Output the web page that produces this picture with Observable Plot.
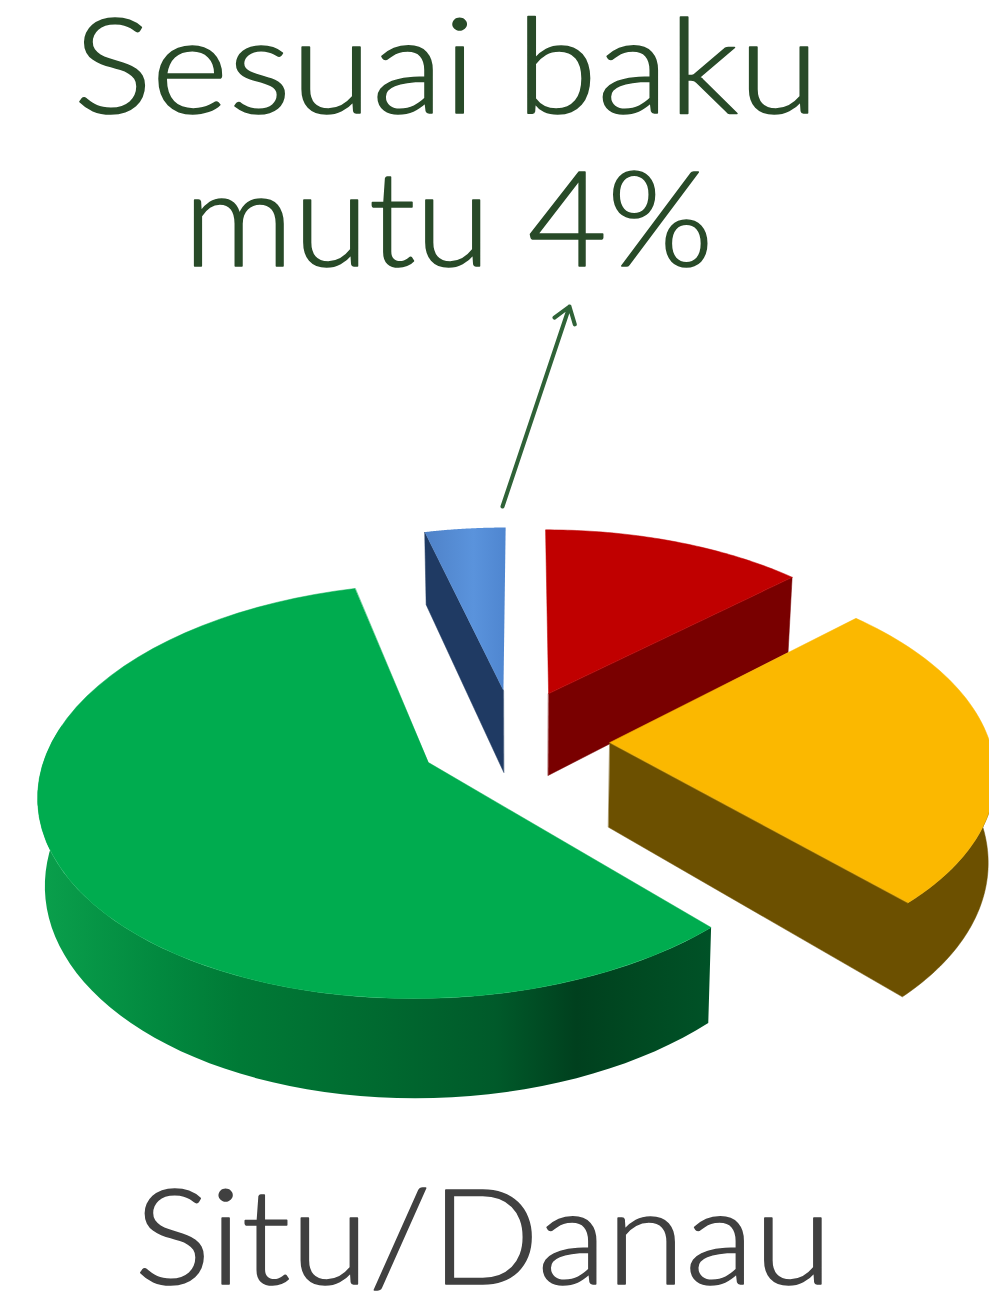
<!DOCTYPE html>
<html>
<head>
<meta charset="utf-8">
<script src="https://cdn.jsdelivr.net/npm/d3@7"></script>
<script src="https://cdn.jsdelivr.net/npm/@observablehq/plot@0.6"></script>
<style>
html,body{margin:0;padding:0;background:#fff;overflow:hidden}
svg{display:block}
</style>
</head>
<body>
<div id="chart"></div>
<script>
// ---- data (percent of sites) ----
const sliceKeys   = ["merah", "kuning", "hijau", "biru"];
const sliceValues = [13, 25, 58, 4];
const calloutLines = ["Sesuai baku", "mutu 4%"];
const chartLabel   = ["Situ/Danau"];

// ---- styles ----
const topColors  = {merah: "#c00000", kuning: "#fbb800", hijau: "#00ac4f", biru: "url(#blueTop)"};
const sideColors = {merah: "#790000", kuning: "#6c5000", hijau: "url(#greenSide)", biru: "#1f3a63"};

// ---- perspective of the tilted disc ----
// the disc lies in a ground plane (u across, w in depth); the scales map u/w and 1/w to the page
const W = 989, H = 1297;
const focalX = 2804, focalY = 10788, vanishX = 522, horizon = -720;
const shrinkX = 0.985, growY = 1.058; // lower face of the disc
const explode = {
  merah:  {u:  0.071, w: 7.635},
  kuning: {u:  0.230, w: 7.379},
  hijau:  {u: -0.244, w: 7.279},
  biru:   {u: -0.052, w: 7.651}
};
const project = (u, w, lower) => ({
  px: (u / w) * (lower ? shrinkX : 1),
  py: (1 / w) * (lower ? growY : 1)
});
// page position helpers for annotations
const pageX = x => (x - vanishX) / focalX;
const pageY = y => (y - horizon) / focalY;

// ---- angles from the values ----
const arcs = d3.pie().sort(null).value(d => d.value)
  (sliceKeys.map((key, i) => ({key, value: sliceValues[i]})));

const rimPoint = (key, a, lower) => {
  const o = explode[key];
  return project(o.u + Math.sin(a), o.w + Math.cos(a), lower);
};
const apex = (key, lower) => project(explode[key].u, explode[key].w, lower);
const arcAngles = (a0, a1) => d3.range(0, 61).map(i => a0 + (a1 - a0) * i / 60);

const topFace = arc => [
  apex(arc.data.key, false),
  ...arcAngles(arc.startAngle, arc.endAngle).map(a => rimPoint(arc.data.key, a, false))
];
const cutFace = (key, a) => [
  apex(key, false), rimPoint(key, a, false), rimPoint(key, a, true), apex(key, true)
];
const rimFace = (key, a0, a1) => {
  const angles = arcAngles(a0, a1);
  return [
    ...angles.map(a => rimPoint(key, a, false)),
    ...angles.slice().reverse().map(a => rimPoint(key, a, true))
  ];
};
// cut face and outer wall as one outline, so no seam shows between them
const wallFace = (key, aEnd, aBack) => {
  const angles = arcAngles(aEnd, aBack);
  return [
    apex(key, false),
    ...angles.map(a => rimPoint(key, a, false)),
    ...angles.slice().reverse().map(a => rimPoint(key, a, true)),
    apex(key, true)
  ];
};

const [red, yellow, green, blue] = arcs;
const poly = (pts, fill) => Plot.line(pts, {x: "px", y: "py", fill, stroke: fill.startsWith("url") ? "none" : fill, strokeWidth: 0.5, curve: "linear-closed"});

const gradients = () => {
  const defs = d3.create("svg:defs");
  const g = defs.append("linearGradient").attr("id", "greenSide");
  [[0, "#0aa04c"], [0.18, "#02893f"], [0.3, "#007a36"], [0.5, "#006a30"], [0.68, "#005a2a"], [0.8, "#00401e"], [0.9, "#004a22"], [1, "#005227"]]
    .forEach(([o, c]) => g.append("stop").attr("offset", o).attr("stop-color", c));
  const b = defs.append("linearGradient").attr("id", "blueTop");
  [[0, "#4f82c8"], [0.6, "#5a93dc"], [1, "#4f86d0"]]
    .forEach(([o, c]) => b.append("stop").attr("offset", o).attr("stop-color", c));
  return defs.node();
};

const textMark = (lines, x, y, color) => Plot.text(lines, {
  x: () => pageX(x), y: () => pageY(y), text: d => d,
  textAnchor: "start", lineAnchor: "bottom", fontSize: 133,
  fontFamily: "Lato, 'Open Sans', sans-serif", fontWeight: 300,
  fill: color, stroke: color, strokeWidth: 1.6
});

const chart = Plot.plot({
  width: W, height: H, margin: 0,
  style: {background: "#fff"},
  x: {type: "linear", domain: [pageX(0), pageX(W)], range: [0, W], axis: null},
  y: {type: "linear", domain: [pageY(0), pageY(H)], range: [0, H], axis: null},
  marks: [
    gradients,
    // green
    poly(rimFace("hijau", green.startAngle, 2 * Math.PI * 0.78), sideColors.hijau),
    poly(topFace(green), topColors.hijau),
    // blue
    poly(cutFace("biru", blue.startAngle), sideColors.biru),
    poly(topFace(blue), topColors.biru),
    // red
    poly(cutFace("merah", red.endAngle), sideColors.merah),
    poly(topFace(red), topColors.merah),
    // yellow
    poly(wallFace("kuning", yellow.endAngle, Math.PI * 0.5), sideColors.kuning),
    poly(topFace(yellow), topColors.kuning),
    // arrow from the blue slice to its callout
    Plot.arrow([0], {
      x1: () => pageX(502), y1: () => pageY(506),
      x2: () => pageX(569), y2: () => pageY(306),
      stroke: "#2f6237", strokeWidth: 4, headLength: 7, headAngle: 70, bend: 0
    }),
    textMark([calloutLines[0]], 73, 112, "#284a28"),
    textMark([calloutLines[1]], 183, 265, "#284a28"),
    textMark(chartLabel, 134, 1283, "#404040")
  ]
});

// fit the three labels to the widths they have in the picture
const fitted = {[calloutLines[0]]: 746, [calloutLines[1]]: 530, [chartLabel[0]]: 698};
d3.select(chart).selectAll("text").each(function() {
  const w = fitted[this.textContent];
  if (w) d3.select(this).attr("textLength", w).attr("lengthAdjust", "spacingAndGlyphs");
});
document.getElementById("chart").append(chart);
</script>
</body>
</html>
